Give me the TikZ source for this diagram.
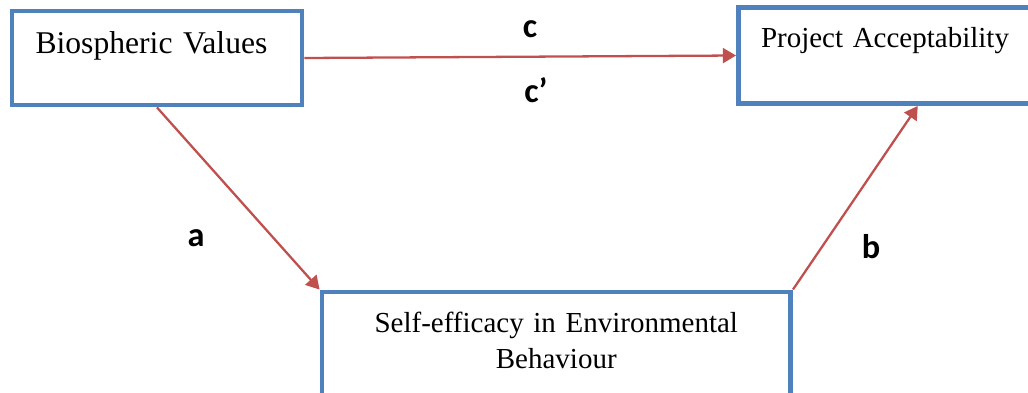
\documentclass[tikz,border=0pt]{standalone}
\usepackage{fontspec}
\setmainfont{Liberation Serif}
\setsansfont{Carlito}
\definecolor{pathblue}{RGB}{79, 129, 189}
\definecolor{pathred}{RGB}{192, 80, 77}
\usetikzlibrary{arrows.meta, positioning}
\tikzset{
    varbox/.style={rectangle, draw=pathblue, line width=2.8pt, fill=white,
                   inner ysep=0pt, font=\fontsize{16.5}{21}\selectfont},
    patharrow/.style={-{Triangle[length=7.5pt, width=8.5pt]}, line width=1.3pt, pathred},
    pathlabel/.style={font=\sffamily\bfseries\fontsize{19.5}{22}\selectfont, anchor=base},
}

\begin{document}
\begin{tikzpicture}
            \useasboundingbox (0, 0) rectangle (20.56, 7.84);

            \node[varbox, minimum width=5.8cm, inner xsep=0.47cm, text width=4.86cm, align=left,
                  text height=0.84cm, text depth=1.04cm, font=\fontsize{18}{21}\selectfont]
                  (bio) at (3.14, 6.68) {Biospheric Values};
            \node[varbox, minimum width=5.87cm, inner xsep=0.45cm, text width=4.97cm, align=left,
                  text height=0.79cm, text depth=1.13cm]
                  (accept) at (17.705, 6.73) {Project Acceptability};
            \node[varbox, minimum width=9.37cm, text width=9cm, align=center,
                  text height=0.8cm, text depth=1.4cm]
                  (efficacy) at (11.125, 0.9) {Self-efficacy in Environmental\\Behaviour};

            \draw[patharrow] (bio.east) -- (accept.west);
            \draw[patharrow] (bio.south) -- (efficacy.north west);
            \draw[patharrow] (efficacy.north east) -- ([xshift=0.65cm]accept.south);

            \node[pathlabel] (lc) at (10.6, 7.1) {c};
            \node[pathlabel] (lcp) at (10.72, 5.8) {c’};
            \node[pathlabel] (la) at (3.92, 2.92) {a};
            \node[pathlabel] (lb) at (17.42, 2.68) {b};
        \end{tikzpicture}
\end{document}
